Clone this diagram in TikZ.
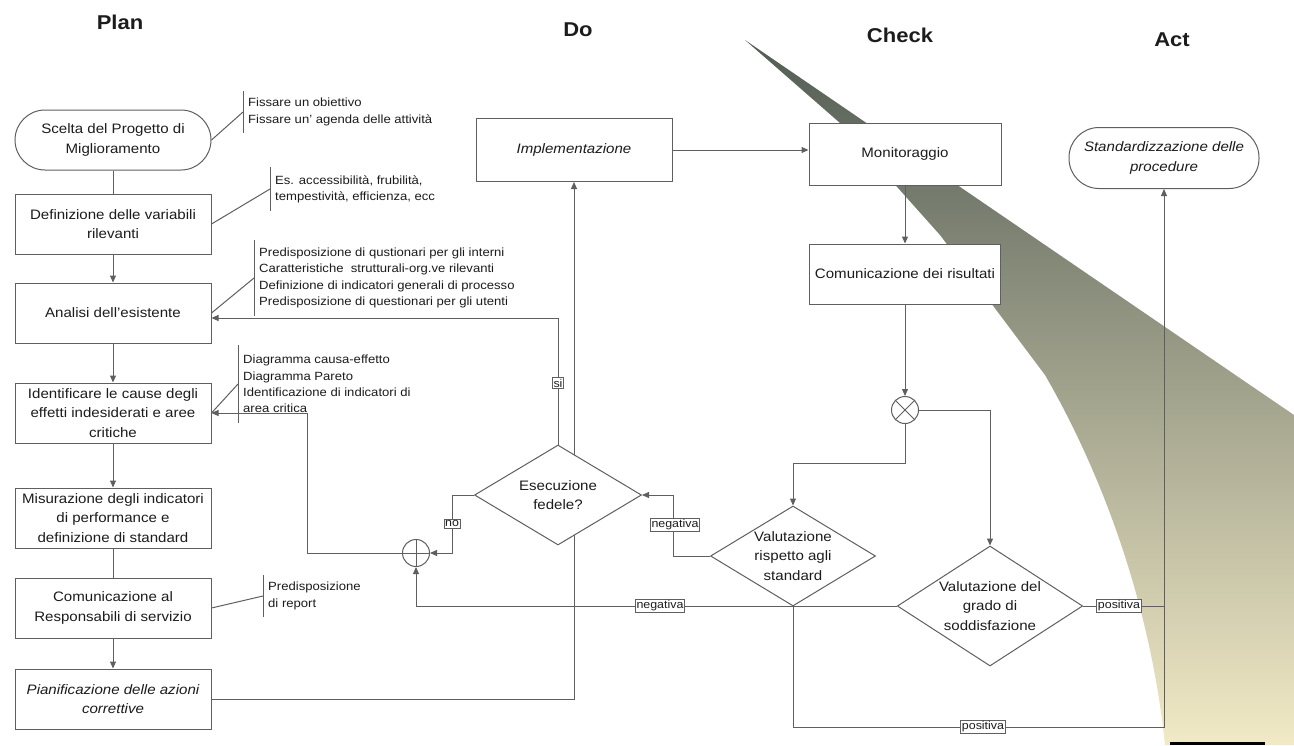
\documentclass[tikz,border=0pt]{standalone}
\usepackage{fontspec}
\setmainfont{Liberation Sans}[FakeStretch=1.1]
\usetikzlibrary{arrows.meta,shapes.geometric,calc}
\pgfdeclarelayer{bg}
\pgfsetlayers{bg,main}

\definecolor{ink}{RGB}{28,28,28}
\definecolor{wirec}{RGB}{95,95,95}
\definecolor{bandtop}{RGB}{82,92,84}
\definecolor{bandmid}{RGB}{178,175,152}
\definecolor{bandlow}{RGB}{242,234,198}

\newcommand\bxfont{\fontsize{13.7pt}{19.5pt}\selectfont}
\newcommand\ntfont{\fontsize{11.9pt}{16.2pt}\selectfont}
\newcommand\lbfont{\fontsize{11.3pt}{13pt}\selectfont}
\newcommand\hdfont{\fontsize{20pt}{24pt}\selectfont\bfseries}

\begin{document}
\begin{tikzpicture}[x=1pt,y=-1pt,
  box/.style={draw=wirec, line width=1pt, fill=white, minimum width=196pt,
    minimum height=60pt, align=center, font=\bxfont, text=ink, inner sep=2pt},
  term/.style={box, rounded corners=30pt},
  dec/.style={diamond, aspect=1.7, draw=wirec, line width=1pt, fill=white,
    inner sep=0pt, align=center, font=\bxfont, text=ink},
  junc/.style={circle, draw=wirec, line width=1pt, fill=white, minimum size=27pt, inner sep=0pt},
  note/.style={anchor=west, align=left, font=\ntfont, text=ink, inner xsep=5pt, inner ysep=0pt},
  lab/.style={draw=wirec, line width=0.6pt, fill=white, inner sep=1.2pt, font=\lbfont, text=ink},
  wire/.style={draw=wirec, line width=1pt},
  arr/.style={wire, -{Triangle[length=7pt,width=6pt]}},
  head/.style={font=\hdfont, text=ink}]

\useasboundingbox (0,0) rectangle (1294,745);

% paper and scanner shadow across the Check/Act columns
\begin{pgfonlayer}{bg}
\fill[white] (0,0) rectangle (1294,745);
\shade[top color=bandtop, middle color=bandmid, bottom color=bandlow]
  (745,40) -- (840,123) -- (940,235) -- (1045,375)
  .. controls (1100,470) and (1150,600) .. (1165,745)
  -- (1294,745) -- (1294,415) -- (1250,385) -- (865,122) -- cycle;
\fill[black] (1170,742) rectangle (1265,745);
\end{pgfonlayer}

% column headings
\node[head] (hplan) at (120,22) {Plan};
\node[head] (hdo) at (578,30) {Do};
\node[head] (hcheck) at (900,35) {Check};
\node[head] (hact) at (1172,40) {Act};

% Plan column
\node[term] (scel) at (113,140) {Scelta del Progetto di\\Miglioramento};
\node[box] (defn) at (113,224) {Definizione delle variabili\\rilevanti};
\node[box] (anal) at (113,313) {Analisi dell'esistente};
\node[box] (iden) at (113,413) {Identificare le cause degli\\effetti indesiderati e aree\\critiche};
\node[box] (misu) at (113,518) {Misurazione degli indicatori\\di performance e\\definizione di standard};
\node[box] (comr) at (113,608) {Comunicazione al\\Responsabili di servizio};
\node[box, font=\bxfont\itshape] (pian) at (113,699) {Pianificazione delle azioni\\correttive};

% side notes
\node[note, minimum height=41pt] (na) at (243,112) {Fissare un obiettivo\\Fissare un' agenda delle attività};
\node[note, minimum height=43pt] (nb) at (270,189) {Es. accessibilità, frubilità,\\tempestività, efficienza, ecc};
\node[note, minimum height=76pt] (nc) at (254,278) {Predisposizione di qustionari per gli interni\\Caratteristiche\ \ strutturali-org.ve rilevanti\\Definizione di indicatori generali di processo\\Predisposizione di questionari per gli utenti};
\node[note, minimum height=77pt] (nd) at (238,384) {Diagramma causa-effetto\\Diagramma Pareto\\Identificazione di indicatori di\\area critica};
\node[note, minimum height=42pt] (ne) at (263,596) {Predisposizione\\di report};
\foreach \n in {na,nb,nc,nd,ne} \draw[wire] (\n.north west) -- (\n.south west);
\draw[wire] (scel.east) -- (na.west);
\draw[wire] (defn.east) -- (nb.west);
\draw[wire] (anal.east) -- (nc.west);
\draw[wire] (iden.east) -- (nd.west);
\draw[wire] (comr.east) -- (ne.west);

% Do column
\node[box, minimum height=63pt, font=\bxfont\itshape] (impl) at (574,150) {Implementazione};
\node[dec, minimum width=167pt, minimum height=100pt] (esec) at (558,495) {Esecuzione\\fedele?};
\node[junc] (plus) at (416,553) {};
\draw[wire] (plus.north) -- (plus.south) (plus.west) -- (plus.east);

% Check column
\node[box, minimum width=192pt, minimum height=62pt] (moni) at (905,154) {Monitoraggio};
\node[box, minimum width=191pt] (cris) at (905,274) {Comunicazione dei risultati};
\node[junc] (cross) at (905,410) {};
\draw[wire] (cross.north east) -- (cross.south west) (cross.north west) -- (cross.south east);
\node[dec, minimum width=165pt, minimum height=100pt] (vrs) at (793,556) {Valutazione\\rispetto agli\\standard};
\node[dec, minimum width=174pt, minimum height=120pt] (vgs) at (990,606) {Valutazione del\\grado di\\soddisfazione};

% Act column
\node[term, minimum width=190pt, minimum height=61pt, font=\bxfont\itshape] (stnd) at (1164,158) {Standardizzazione delle\\procedure};

% turning points of the connectors
\coordinate (siy) at (0,318);
\coordinate (loopx) at (307,0);
\coordinate (riser) at (574,0);
\coordinate (splity) at (0,463);
\coordinate (acty) at (0,727);

\begin{pgfonlayer}{bg}
\draw[wire] (scel) -- (defn);
\draw[arr] (defn) -- (anal);
\draw[arr] (anal) -- (iden);
\draw[arr] (iden) -- (misu);
\draw[wire] (misu) -- (comr);
\draw[arr] (comr) -- (pian);
\draw[arr] (pian.east) -- (pian.east -| riser) -- (impl.south);
\draw[arr] (impl.east) -- (impl.east -| moni.west);
\draw[arr] (moni) -- (cris);
\draw[arr] (cris) -- (cross);
\draw[arr] (cross.south) -- (cross.south |- splity) -| (vrs.north);
\draw[arr] (cross.east) -| (vgs.north);
\draw[arr] (vrs.west) -- ++(-37,0) |- (esec.east);
\draw[arr] (esec.west) -- ++(-22,0) |- (plus.east);
\draw[arr] (esec.north) -- (esec.north |- siy) -- (anal.east |- siy);
\draw[arr] (vgs.west) -| (plus.south);
\draw[arr] (plus.west) -- (plus.west -| loopx) |- (iden.east);
\draw[arr] (vrs.south) -- (vrs.south |- acty) -| (stnd.south);
\draw[wire] (vgs.east) -- (vgs.east -| stnd.south);
\end{pgfonlayer}

% branch labels
\node[lab] (lsi) at (558,383) {si};
\node[lab] (lno) at (452,524) {no};
\node[lab] (lneg1) at (675,525) {negativa};
\node[lab] (lneg2) at (660,606) {negativa};
\node[lab] (lpos1) at (1119,606) {positiva};
\node[lab] (lpos2) at (983,727) {positiva};
\end{tikzpicture}
\end{document}
